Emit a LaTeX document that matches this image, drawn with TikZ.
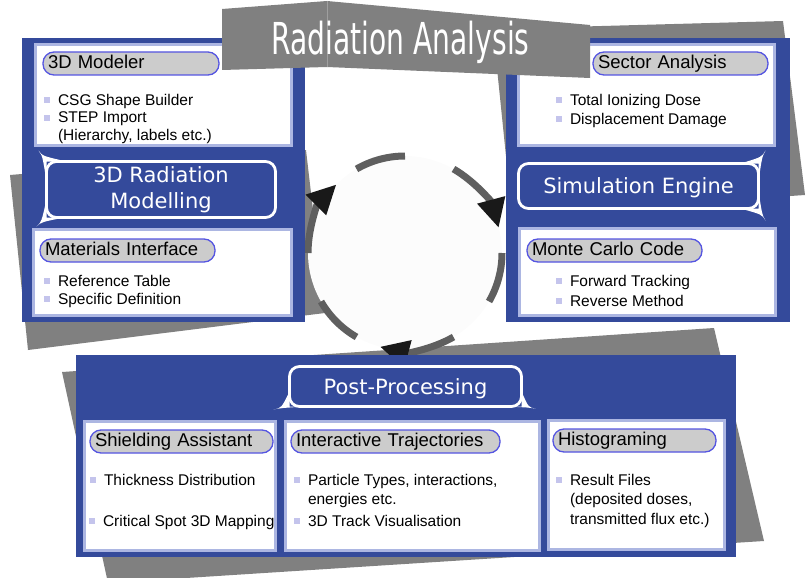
\documentclass[tikz,border=0pt]{standalone}
\usepackage{fontspec}
\usetikzlibrary{calc,arrows.meta}

\newfontfamily\arialfam{Liberation Sans}
\newfontfamily\verdfam{DejaVu Sans}
\newcommand\itemfnt{\arialfam\fontsize{15.5}{18}\selectfont}
\newcommand\headfnt{\arialfam\fontsize{18.5}{22}\selectfont}
\newcommand\bubblefnt{\verdfam\fontsize{21}{26}\selectfont}
\newcommand\titlefnt{\verdfam\fontsize{44}{50}\selectfont}

\definecolor{panelblue}{RGB}{52,74,155}
\definecolor{boxrim}{RGB}{172,182,226}
\definecolor{pillrim}{RGB}{85,85,225}
\definecolor{pillfill}{RGB}{204,204,204}
\definecolor{bulletc}{RGB}{196,196,236}
\definecolor{shadegrey}{RGB}{128,128,128}
\definecolor{cycgrey}{RGB}{95,95,95}
\definecolor{cyctip}{RGB}{25,25,25}
\definecolor{cycfill}{RGB}{252,252,252}

% white pointer at a corner of a bubble
\newcommand\spike[4]{\fill[white] ($(#1)+(#2)$) .. controls ($(#1)+0.5*(#3)$) .. ($(#1)+(#3)$) .. controls ($(#1)+0.5*(#3)$) .. ($(#1)+(#4)$) -- (#1) -- cycle;}

\begin{document}
\begin{tikzpicture}[x=1pt, y=-1pt,
    backdrop/.style={fill=shadegrey},
    panel/.style={fill=panelblue, inner sep=0pt, outer sep=0pt, anchor=north west},
    card/.style={draw=boxrim, fill=white, line width=3.5pt, inner sep=0pt, outer sep=0pt, anchor=north west},
    pill/.style={draw=pillrim, fill=pillfill, line width=1.3pt, rounded corners=11pt, minimum height=23pt, inner xsep=5pt, inner ysep=2pt, outer sep=0pt, anchor=west, align=left, text width=#1, font=\headfnt, text height=13pt, text depth=3.5pt},
    bubble/.style={draw=white, line width=2.8pt, fill=panelblue, rounded corners=10pt, text=white, font=\bubblefnt, align=center, inner sep=0pt, outer sep=0pt},
    cont/.style={anchor=west, inner sep=0pt, outer sep=0pt, font=\itemfnt, text height=12pt, text depth=2pt},
    item/.style={cont, label={[bulsq]left:{}}},
    bulsq/.style={fill=bulletc, minimum size=6pt, inner sep=0pt, outer sep=0pt, xshift=-8pt},
    cycarc/.style={draw=cycgrey, line width=7pt}
]
    \useasboundingbox (0,0) rectangle (811,578);

    % grey sheets behind the panels
    \fill[backdrop] (10,175) -- (306,150) -- (325,313) -- (28,350) -- cycle;
    \fill[backdrop] (493,29) -- (783,21) -- (805,195) -- (512,215) -- cycle;
    \fill[backdrop] (62,372) -- (714,328) -- (764,541) -- (108,583) -- cycle;

    % cycle
    \node[circle, fill=cycfill, minimum size=194pt, inner sep=0pt, outer sep=0pt] (cyc) at (405,253) {};
    \foreach \s in {180,60,300} {
        \pgfmathtruncatemacro\t{\s-60}
        \draw[cycarc, -{Triangle[length=29pt, width=27pt, color=cyctip]}] (cyc.\s) arc[start angle=\s, end angle=\s-45, radius=97pt];
        \draw[cycarc] (cyc.\t) arc[start angle=\t, end angle=\t-30, radius=97pt];
    }

    % panels
    \node[panel, minimum width=283pt, minimum height=284pt] (lpan) at (22,38) {};
    \node[panel, minimum width=284pt, minimum height=284pt] (rpan) at (506,38) {};
    \node[panel, minimum width=660pt, minimum height=202pt] (bpan) at (76,355) {};

    % cards
    \node[card, minimum width=256pt, minimum height=101pt] (ltop) at (35.5,44.5) {};
    \node[card, minimum width=258pt, minimum height=86pt] (lbot) at (33.5,229.5) {};
    \node[card, minimum width=256pt, minimum height=101pt] (rtop) at (518.5,44.5) {};
    \node[card, minimum width=256pt, minimum height=87pt] (rbot) at (519.5,228.5) {};
    \node[card, minimum width=191pt, minimum height=129pt] (shl) at (84.5,421.5) {};
    \node[card, minimum width=254pt, minimum height=129pt] (trj) at (285.5,421.5) {};
    \node[card, minimum width=176pt, minimum height=129pt] (hst) at (548.5,420.5) {};

    % headings
    \node[pill=166pt] (mdl) at (43,63.5) {3D Modeler};
    \node[pill=165pt] (mat) at (40,250.5) {Materials Interface};
    \node[pill=165pt] (sec) at (593,63.5) {Sector Analysis};
    \node[pill=165pt] (mcc) at (527,250.5) {Monte Carlo Code};
    \node[pill=173pt] (shd) at (90,441.5) {Shielding Assistant};
    \node[pill=199pt] (itr) at (291,441.5) {Interactive Trajectories};
    \node[pill=153pt] (hsg) at (553,440.5) {Histograming};

    % items
    \node[item] (csg) at (58,100) {CSG Shape Builder};
    \node[item] (stp) at (58,117.5) {STEP Import};
    \node[cont] (stp2) at (58,135) {(Hierarchy, labels etc.)};
    \node[item] (rft) at (58,281) {Reference Table};
    \node[item] (spd) at (58,299) {Specific Definition};
    \node[item] (tid) at (570,100) {Total Ionizing Dose};
    \node[item] (dpd) at (570,119) {Displacement Damage};
    \node[item] (fwd) at (570,281) {Forward Tracking};
    \node[item] (rev) at (570,301) {Reverse Method};
    \node[item] (thk) at (104,480) {Thickness Distribution};
    \node[item] (crt) at (103,521) {Critical Spot 3D Mapping};
    \node[item] (ptt) at (308,480) {Particle Types, interactions,};
    \node[cont] (ptt2) at (308,499) {energies etc.};
    \node[item] (trk) at (308,521) {3D Track Visualisation};
    \node[item] (res) at (570,480) {Result Files};
    \node[cont] (res2) at (570,499) {(deposited doses,};
    \node[cont] (res3) at (570,519) {transmitted flux etc.)};

    % bubbles
    \node[bubble, minimum width=229pt, minimum height=56pt] (mdlg) at (161,189.5) {3D Radiation\\Modelling};
    \node[bubble, minimum width=240pt, minimum height=45pt, text height=15.3pt, text depth=0pt] (sim) at (638.5,186) {Simulation Engine};
    \node[bubble, minimum width=232pt, minimum height=40pt, text height=15.3pt, text depth=0pt] (post) at (405.5,386.5) {Post-Processing};
    \spike{mdlg.north west}{0,20}{-8,-11}{20,0}
    \spike{mdlg.south west}{0,-18}{-10,9}{18,0}
    \spike{sim.north east}{-18,0}{7,-13}{0,18}
    \spike{sim.south east}{0,-18}{7,12}{-18,0}
    \spike{post.south west}{0,-15}{-16,3}{15,0}
    \spike{post.south east}{0,-15}{14,2}{-15,0}

    % title banner
    \fill[backdrop] (222,9) -- (327,1) -- (590,25) -- (590,78) -- (327,67) -- (222,70) -- cycle;
    \draw[gray!75, line width=0.6pt] (327,1) -- (327,67);
    \node[font=\titlefnt, text=white, inner sep=0pt, text height=32pt, text depth=0pt] (ttl) at (400.5,39) {\scalebox{0.64}[1]{Radiation Analysis}};
\end{tikzpicture}
\end{document}
